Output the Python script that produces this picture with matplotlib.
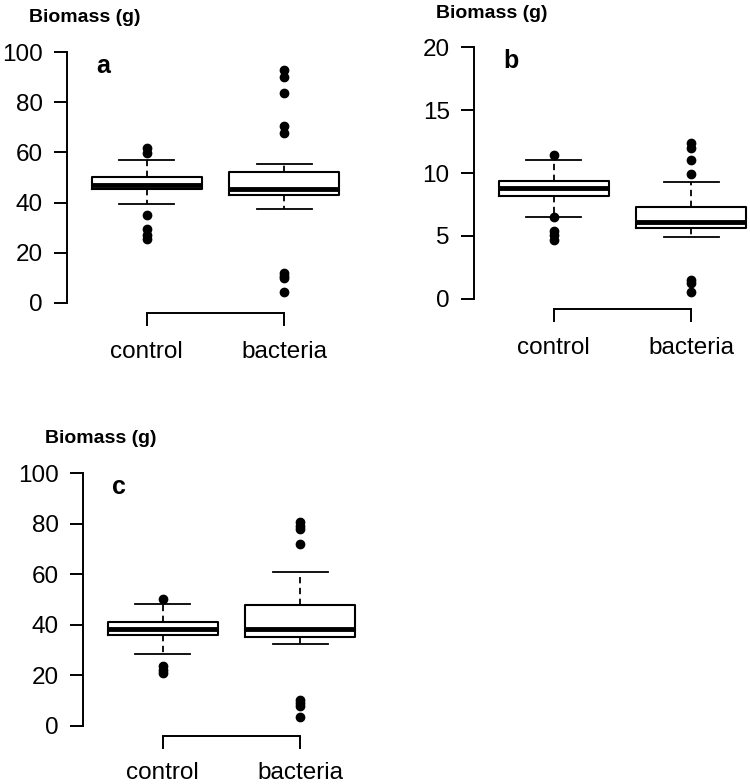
import matplotlib
matplotlib.use("Agg")
import matplotlib.pyplot as plt

plt.rcParams['font.family'] = ['Liberation Sans', 'DejaVu Sans']

groups = ["control", "bacteria"]

# valeurs : (whislo, q1, med, q3, whishi) et points extrêmes
a_control = [39.5, 45.3, 47.2, 50.3, 57.0]
a_control_out = [61.7, 59.8, 35.0, 29.5, 27.0, 25.3]
a_bacteria = [37.3, 43.0, 45.3, 52.2, 55.3]
a_bacteria_out = [92.8, 90.0, 83.5, 70.5, 67.7, 11.8, 10.8, 9.8, 4.4]

b_control = [6.5, 8.2, 8.8, 9.35, 11.0]
b_control_out = [11.4, 6.5, 5.4, 5.05, 4.7]
b_bacteria = [4.95, 5.65, 6.1, 7.3, 9.3]
b_bacteria_out = [12.4, 12.0, 11.0, 9.95, 1.5, 1.3, 0.55]

c_control = [28.6, 36.0, 38.2, 41.0, 48.3]
c_control_out = [50.1, 23.7, 22.3, 20.9]
c_bacteria = [32.3, 35.0, 38.5, 47.7, 60.7]
c_bacteria_out = [80.8, 79.2, 77.8, 72.0, 10.3, 9.2, 8.0, 3.7]

y_max = [100, 20, 100]
y_ticks = [[0, 20, 40, 60, 80, 100], [0, 5, 10, 15, 20], [0, 20, 40, 60, 80, 100]]
letters = ["a", "b", "c"]


def make_stats(v, out):
    return {"whislo": v[0], "q1": v[1], "med": v[2], "q3": v[3], "whishi": v[4], "fliers": out}


W, H = 750, 784
fig = plt.figure(figsize=(W / 100, H / 100), dpi=100)

# (pixel de l'axe y, pixel du haut, pixel du bas) pour chaque panneau
frames = [(67, 42, 313), (474, 37, 309), (83, 463, 736)]
titles_pos = [(29, 22), (436, 18), (45, 443)]
xpads = [11, 11, 9]
step = 137.5

data = [
    [make_stats(a_control, a_control_out), make_stats(a_bacteria, a_bacteria_out)],
    [make_stats(b_control, b_control_out), make_stats(b_bacteria, b_bacteria_out)],
    [make_stats(c_control, c_control_out), make_stats(c_bacteria, c_bacteria_out)],
]

for i in range(3):
    x0, top, bot = frames[i]
    right = x0 + (2.58 - 0.42) * step
    ax = fig.add_axes([x0 / W, 1 - bot / H, (right - x0) / W, (bot - top) / H])
    ax.bxp(data[i], positions=[1, 2], widths=0.8, capwidths=0.4,
           patch_artist=False,
           boxprops=dict(color="black", linewidth=1.5),
           medianprops=dict(color="black", linewidth=3.5, solid_capstyle="butt"),
           whiskerprops=dict(color="black", linewidth=1.3, linestyle=(0, (3.5, 2.5))),
           capprops=dict(color="black", linewidth=1.3),
           flierprops=dict(marker="o", markerfacecolor="black", markeredgecolor="black",
                           markersize=6, linestyle="none"))
    pad = 0.04 * y_max[i]
    ax.set_ylim(-pad, y_max[i] + pad)
    ax.set_xlim(0.42, 2.58)
    for s in ["top", "right"]:
        ax.spines[s].set_visible(False)
    ax.spines["left"].set_bounds(0, y_max[i])
    ax.spines["bottom"].set_bounds(1, 2)
    ax.spines["left"].set_linewidth(1.4)
    ax.spines["bottom"].set_linewidth(1.4)
    ax.set_yticks(y_ticks[i])
    ax.set_xticks([1, 2])
    ax.set_xticklabels(groups)
    ax.tick_params(axis="both", direction="out", length=9.5, width=1.4, labelsize=17.5)
    ax.tick_params(axis="y", pad=8)
    ax.tick_params(axis="x", pad=xpads[i])
    ax.text(0.63, y_max[i] * 0.945, letters[i], fontsize=18, fontweight="bold", va="center")
    ax.patch.set_alpha(0)
    tx, ty = titles_pos[i]
    fig.text(tx / W, 1 - ty / H, "Biomass (g)", fontsize=14, fontweight="bold", va="baseline")

fig.savefig("out.png", dpi=100)
